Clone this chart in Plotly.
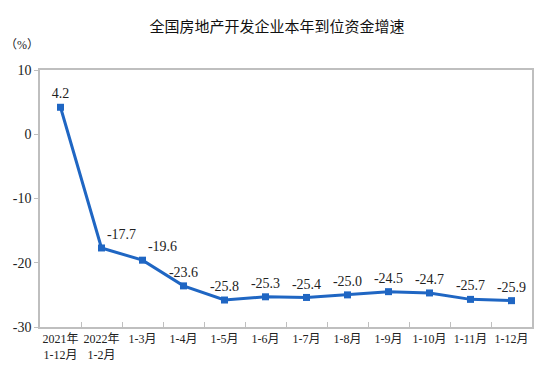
import plotly.graph_objects as go

categories = ["2021年<br>1-12月", "2022年<br>1-2月", "1-3月", "1-4月", "1-5月", "1-6月",
              "1-7月", "1-8月", "1-9月", "1-10月", "1-11月", "1-12月"]
values = [4.2, -17.7, -19.6, -23.6, -25.8, -25.3, -25.4, -25.0, -24.5, -24.7, -25.7, -25.9]
labels = ["4.2", "-17.7", "-19.6", "-23.6", "-25.8", "-25.3", "-25.4", "-25.0", "-24.5", "-24.7", "-25.7", "-25.9"]
y_ticks = [-30, -20, -10, 0, 10]
y_tick_text = ["-30", "-20", "-10", "0", "10"]
text_pos = ["top center", "top right", "top right"] + ["top center"] * 9

serif = "Liberation Serif, Noto Sans CJK SC, serif"
color = "#1F66C3"

fig = go.Figure(go.Scatter(
    x=list(range(len(categories))), y=values,
    mode="lines+markers+text",
    line=dict(color=color, width=3),
    marker=dict(symbol="square", size=7, color=color),
    text=labels, textposition=text_pos,
    textfont=dict(family=serif, size=14, color="#222"),
    cliponaxis=False,
    hoverinfo="skip",
))

fig.update_layout(
    width=554, height=388,
    margin=dict(l=40, r=22, t=70, b=61),
    paper_bgcolor="white", plot_bgcolor="white",
    showlegend=False,
    title=dict(text="全国房地产开发企业本年到位资金增速", x=0.5, xanchor="center",
               y=0.93, yanchor="middle",
               font=dict(family="Noto Sans CJK SC, sans-serif", size=15, color="#111")),
    xaxis=dict(
        tickmode="array", tickvals=list(range(len(categories))), ticktext=categories,
        range=[-0.5, len(categories) - 0.5],
        showgrid=False, zeroline=False,
        showline=True, linecolor="#BFBFBF", linewidth=1.5, mirror=True,
        ticks="", tickfont=dict(family=serif, size=12, color="#222"),
        minor=dict(tickmode="array", tickvals=[i + 0.5 for i in range(len(categories) - 1)],
                   ticks="inside", ticklen=5, tickcolor="#BFBFBF", showgrid=False),
    ),
    yaxis=dict(
        range=[-30, 10], tickmode="array", tickvals=y_ticks, ticktext=y_tick_text,
        showgrid=False, zeroline=False,
        showline=True, linecolor="#BFBFBF", linewidth=1.5, mirror=True,
        ticks="outside", ticklen=4, tickcolor="#BFBFBF",
        tickfont=dict(family=serif, size=14, color="#222"),
    ),
)
fig.add_annotation(text="（%）", xref="paper", yref="paper", x=-0.037, y=1.097,
                   xanchor="center", yanchor="middle", showarrow=False,
                   font=dict(family=serif, size=12, color="#222"))

fig.write_html("out.html", config={"displayModeBar": False},
               post_script="document.body.style.margin='0';")
